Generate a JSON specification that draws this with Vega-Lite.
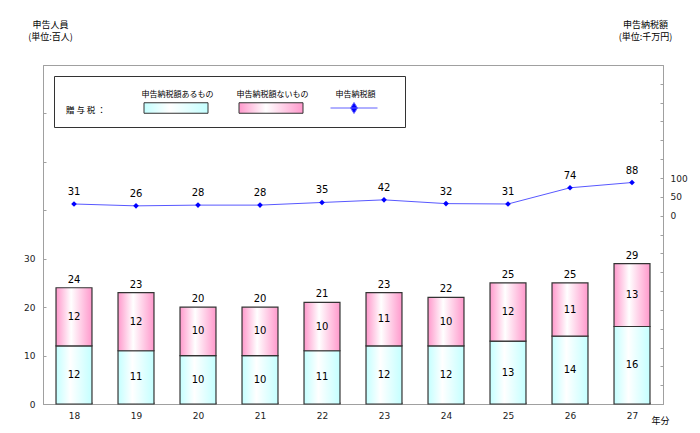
{
  "$schema": "https://vega.github.io/schema/vega-lite/v6.json",
  "width": 620,
  "height": 339,
  "autosize": {"type": "none"},
  "padding": {"left": 43, "top": 65, "right": 37, "bottom": 29},
  "background": "#ffffff",
  "datasets": {
    "bars": [
      {"year": "18", "series": "申告納税額あるもの", "count": 12},
      {"year": "18", "series": "申告納税額ないもの", "count": 12},
      {"year": "19", "series": "申告納税額あるもの", "count": 11},
      {"year": "19", "series": "申告納税額ないもの", "count": 12},
      {"year": "20", "series": "申告納税額あるもの", "count": 10},
      {"year": "20", "series": "申告納税額ないもの", "count": 10},
      {"year": "21", "series": "申告納税額あるもの", "count": 10},
      {"year": "21", "series": "申告納税額ないもの", "count": 10},
      {"year": "22", "series": "申告納税額あるもの", "count": 11},
      {"year": "22", "series": "申告納税額ないもの", "count": 10},
      {"year": "23", "series": "申告納税額あるもの", "count": 12},
      {"year": "23", "series": "申告納税額ないもの", "count": 11},
      {"year": "24", "series": "申告納税額あるもの", "count": 12},
      {"year": "24", "series": "申告納税額ないもの", "count": 10},
      {"year": "25", "series": "申告納税額あるもの", "count": 13},
      {"year": "25", "series": "申告納税額ないもの", "count": 12},
      {"year": "26", "series": "申告納税額あるもの", "count": 14},
      {"year": "26", "series": "申告納税額ないもの", "count": 11},
      {"year": "27", "series": "申告納税額あるもの", "count": 16},
      {"year": "27", "series": "申告納税額ないもの", "count": 13}
    ],
    "tax": [
      {"year": "18", "tax": 31},
      {"year": "19", "tax": 26},
      {"year": "20", "tax": 28},
      {"year": "21", "tax": 28},
      {"year": "22", "tax": 35},
      {"year": "23", "tax": 42},
      {"year": "24", "tax": 32},
      {"year": "25", "tax": 31},
      {"year": "26", "tax": 74},
      {"year": "27", "tax": 88}
    ]
  },
  "layer": [
    {
      "layer": [
        {
          "data": {"name": "bars"},
          "transform": [
            {"stack": "count", "groupby": ["year"], "sort": [{"field": "series", "order": "ascending"}], "as": ["v0", "v1"]},
            {"filter": "datum.series === '申告納税額あるもの'"}
          ],
          "mark": {
            "type": "bar", "strokeWidth": 1.2,
            "fill": {"gradient": "linear", "x1": 0, "y1": 0, "x2": 1, "y2": 0,
              "stops": [{"offset": 0, "color": "#c4ffff"}, {"offset": 0.4, "color": "#ffffff"}, {"offset": 1, "color": "#c4ffff"}]}
          },
          "encoding": {
            "x": {
              "field": "year", "type": "ordinal",
              "scale": {"paddingInner": 0.42, "paddingOuter": 0.21},
              "axis": {
                "title": "年分", "labelAngle": 0, "tickBand": "extent", "tickSize": -2,
                "labelPadding": 9, "titleX": 617, "titleY": 16, "titleAlign": "center",
                "titleBaseline": "middle", "titleFontSize": 9, "titleFontWeight": "normal",
                "titleFont": "Noto Sans CJK JP", "titleColor": "#000000"
              }
            },
            "y": {
              "field": "v1", "type": "quantitative",
              "scale": {"domain": [0, 70], "nice": false},
              "axis": {
                "orient": "left",
                "values": [0, 10, 20, 30, 40, 50, 60, 70],
                "labelExpr": "datum.value <= 30 ? datum.label : ''",
                "labelOverlap": false,
                "tickSize": -3, "labelPadding": 11,
                "title": ["申告人員", "(単位:百人)"],
                "titleAngle": 0, "titleX": 7, "titleY": -45, "titleAlign": "center",
                "titleBaseline": "top", "titleFontSize": 9, "titleLineHeight": 12,
                "titleFontWeight": "normal", "titleFont": "Noto Sans CJK JP", "titleColor": "#000000"
              }
            },
            "y2": {"field": "v0"},
            "stroke": {
              "field": "series", "type": "nominal",
              "scale": {"domain": ["申告納税額あるもの"], "range": ["#333333"]},
              "legend": {
                "orient": "none", "legendX": 122.5, "legendY": 32.5, "zindex": 2,
                "title": null, "labelExpr": "''", "labelFontSize": 1,
                "symbolSize": 400, "symbolType": "M-3.2,-0.525H3.2V0.525H-3.2Z",
                "symbolStrokeWidth": 1, "symbolOpacity": 1,
                "padding": 0, "strokeColor": null, "fillColor": null
              }
            },
            "strokeDash": {
              "field": "series", "type": "nominal",
              "scale": {"domain": ["申告納税額あるもの", "申告納税額ないもの", "申告納税額"], "range": [[1, 0], [1, 0], [1, 0]]},
              "legend": {
                "orient": "none", "legendX": 11, "legendY": 11, "zindex": 0,
                "direction": "horizontal", "columns": 3,
                "title": "贈 与 税 ：", "titleOrient": "left", "titleAnchor": "end", "titleBaseline": "bottom",
                "titleFontSize": 8.5, "titleFontWeight": "normal", "titleFont": "Noto Sans CJK JP",
                "titleColor": "#000000", "titlePadding": 60,
                "labelFont": "Noto Sans CJK JP", "labelFontSize": 8, "labelColor": "#000000",
                "labelAlign": "center", "labelBaseline": "bottom", "labelOffset": -10.5,
                "symbolSize": 400, "symbolType": "M-2.4,-0.525H3.8V1.6H-2.4Z", "symbolOpacity": 0,
                "columnPadding": 21, "padding": 12,
                "strokeColor": "#333333", "fillColor": "#ffffff", "cornerRadius": 0
              }
            }
          }
        },
        {
          "data": {"name": "bars"},
          "transform": [
            {"stack": "count", "groupby": ["year"], "sort": [{"field": "series", "order": "ascending"}], "as": ["v0", "v1"]},
            {"filter": "datum.series === '申告納税額ないもの'"}
          ],
          "mark": {
            "type": "bar", "strokeWidth": 1.2,
            "fill": {"gradient": "linear", "x1": 0, "y1": 0, "x2": 1, "y2": 0,
              "stops": [{"offset": 0, "color": "#ff99cc"}, {"offset": 0.42, "color": "#ffffff"}, {"offset": 1, "color": "#ff99cc"}]}
          },
          "encoding": {
            "x": {"field": "year", "type": "ordinal", "scale": {"paddingInner": 0.42, "paddingOuter": 0.21}},
            "y": {"field": "v1", "type": "quantitative", "scale": {"domain": [0, 70], "nice": false}},
            "y2": {"field": "v0"},
            "stroke": {
              "field": "series", "type": "nominal",
              "scale": {"domain": ["申告納税額ないもの"], "range": ["#333333"]},
              "legend": {
                "orient": "none", "legendX": 217.5, "legendY": 32.5, "zindex": 2,
                "title": null, "labelExpr": "''", "labelFontSize": 1,
                "symbolSize": 400, "symbolType": "M-3.2,-0.525H3.2V0.525H-3.2Z",
                "symbolStrokeWidth": 1, "symbolOpacity": 1,
                "padding": 0, "strokeColor": null, "fillColor": null
              }
            }
          }
        },
        {
          "data": {"name": "bars"},
          "transform": [
            {"stack": "count", "groupby": ["year"], "sort": [{"field": "series", "order": "ascending"}], "as": ["v0", "v1"]},
            {"fold": ["v0", "v1"], "as": ["edge", "pos"]}
          ],
          "mark": {"type": "text", "baseline": "middle", "align": "center"},
          "encoding": {
            "x": {"field": "year", "type": "ordinal", "scale": {"paddingInner": 0.42, "paddingOuter": 0.21}},
            "y": {"aggregate": "mean", "field": "pos", "type": "quantitative", "stack": null, "scale": {"domain": [0, 70], "nice": false}},
            "detail": {"field": "series"},
            "text": {"aggregate": "max", "field": "count", "type": "quantitative"}
          }
        },
        {
          "data": {"name": "bars"},
          "mark": {"type": "text", "baseline": "middle", "align": "center", "dy": -8},
          "encoding": {
            "x": {"field": "year", "type": "ordinal", "scale": {"paddingInner": 0.42, "paddingOuter": 0.21}},
            "y": {"aggregate": "sum", "field": "count", "type": "quantitative", "stack": null, "scale": {"domain": [0, 70], "nice": false}},
            "text": {"aggregate": "sum", "field": "count", "type": "quantitative"}
          }
        }
      ],
      "resolve": {"scale": {"stroke": "independent"}, "legend": {"stroke": "independent"}}
    },
    {
      "data": {"name": "tax"},
      "encoding": {
        "x": {"field": "year", "type": "ordinal", "scale": {"paddingInner": 0.42, "paddingOuter": 0.21}},
        "y": {
          "field": "tax", "type": "quantitative",
          "scale": {"domain": [-500, 400], "nice": false},
          "axis": {
            "orient": "right",
            "values": [-500, -450, -400, -350, -300, -250, -200, -150, -100, -50, 0, 50, 100, 150, 200, 250, 300, 350, 400],
            "labelExpr": "(datum.value >= 0 && datum.value <= 100) ? datum.label : ''",
            "labelOverlap": false,
            "tickSize": -3, "labelPadding": 10,
            "title": ["申告納税額", "(単位:千万円)"],
            "titleAngle": 0, "titleX": -18, "titleY": -45, "titleAlign": "center",
            "titleBaseline": "top", "titleFontSize": 9, "titleLineHeight": 12,
            "titleFontWeight": "normal", "titleFont": "Noto Sans CJK JP", "titleColor": "#000000"
          }
        }
      },
      "layer": [
        {
          "mark": {"type": "line", "color": "#5858ff", "strokeWidth": 1}
        },
        {
          "mark": {"type": "point", "shape": "diamond", "filled": true, "size": 32, "opacity": 1},
          "encoding": {
            "color": {
              "datum": "申告納税額", "type": "nominal",
              "scale": {"domain": ["申告納税額"], "range": ["#0000ff"]},
              "legend": {
                "orient": "none", "legendX": 300.5, "legendY": 32.5, "zindex": 2,
                "title": null, "labelExpr": "''", "labelFontSize": 1,
                "symbolSize": 400, "symbolType": "M-2.35,0H2.35M0,-0.55L0.35,0L0,0.55L-0.35,0Z",
                "symbolStrokeColor": "#6060ff", "symbolStrokeWidth": 1, "symbolOpacity": 1,
                "padding": 0, "strokeColor": null, "fillColor": null
              }
            }
          }
        },
        {
          "mark": {"type": "text", "baseline": "middle", "align": "center", "dy": -12},
          "encoding": {"text": {"field": "tax", "type": "quantitative"}}
        }
      ]
    }
  ],
  "resolve": {"scale": {"y": "independent"}},
  "config": {
    "view": {"stroke": "#a0a0a0", "strokeWidth": 1},
    "axis": {
      "grid": false,
      "domainColor": "#a0a0a0",
      "tickColor": "#a0a0a0",
      "labelFont": "DejaVu Sans",
      "labelFontSize": 9,
      "labelColor": "#222222"
    },
    "text": {"font": "DejaVu Sans", "fontSize": 10, "color": "#000000"}
  }
}
